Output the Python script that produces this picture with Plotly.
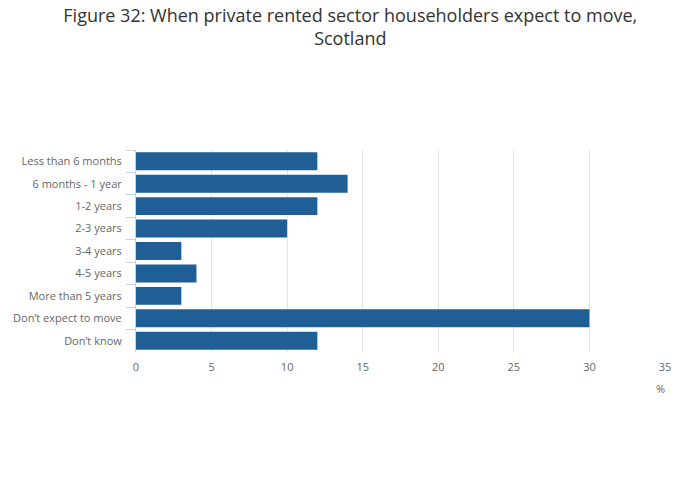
import plotly.graph_objects as go

categories = ["Less than 6 months", "6 months - 1 year", "1-2 years", "2-3 years",
              "3-4 years", "4-5 years", "More than 5 years", "Don\u2019t expect to move", "Don\u2019t know"]
values = [12, 14, 12, 10, 3, 4, 3, 30, 12]
x_ticks = [0, 5, 10, 15, 20, 25, 30, 35]

fig = go.Figure(go.Bar(
    x=values, y=categories, orientation="h",
    marker=dict(color="#1f5f96", line=dict(width=0)),
))

fig.update_layout(
    width=700, height=502,
    paper_bgcolor="white", plot_bgcolor="white",
    font=dict(family="Open Sans", color="#666666", size=11),
    title=dict(text="Figure 32: When private rented sector householders expect to move,<br>Scotland",
               x=0.489, xanchor="center", xref="container", y=0.972, yanchor="top",
               font=dict(family="Open Sans", size=18, color="#333333")),
    margin=dict(l=128, r=43, t=142, b=158, autoexpand=False),
    bargap=0.2,
    showlegend=False,
    xaxis=dict(range=[0, 35], tickvals=x_ticks, showgrid=True, gridcolor="#e6e6e6",
               zeroline=False, showline=False, ticks="", ticklabelstandoff=7,
               automargin=False, tickfont=dict(size=11, color="#666666")),
    yaxis=dict(autorange="reversed", showline=True, linecolor="#c8d4e6", linewidth=1,
               ticks="outside", ticklen=9, tickcolor="#c8d4e6", tickwidth=1, tickson="boundaries",
               ticklabelstandoff=11, automargin=False,
               showgrid=False, tickfont=dict(size=11, color="#666666")),
    annotations=[dict(text="%", x=1, xref="paper", xanchor="right", xshift=2,
                      y=-0.18, yref="paper", yanchor="middle", showarrow=False,
                      font=dict(size=11, color="#666666"))],
)

fig.write_html("out.html")
